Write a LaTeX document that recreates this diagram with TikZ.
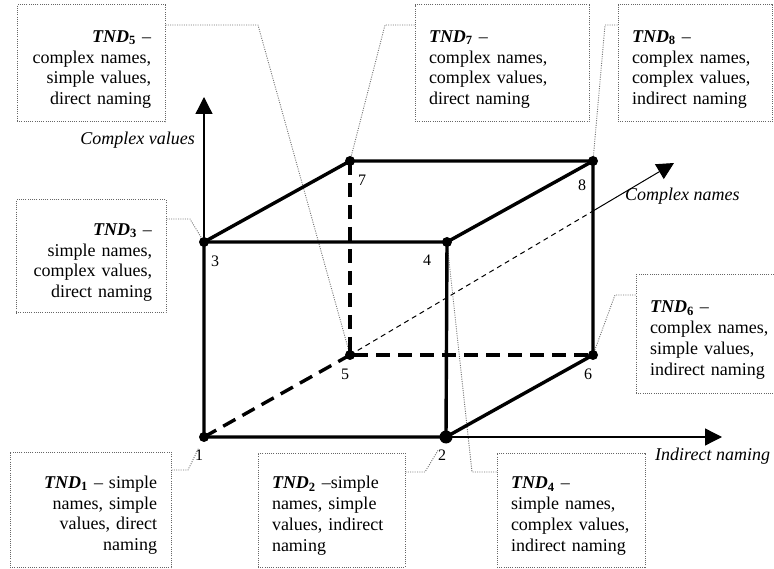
\documentclass[tikz,border=0pt]{standalone}
\usepackage{fontspec}
\setmainfont{Liberation Serif}
\usepackage{tikz}
\usetikzlibrary{arrows.meta,calc}

\newcommand{\tnd}[1]{\rule{0pt}{24pt}\textbf{\textit{TND}}\textsubscript{\textbf{#1}}}

\begin{document}
\begin{tikzpicture}[x=1pt,y=-1pt,
		edge/.style={line width=3.4pt},
		hidden/.style={line width=3.4pt, dash pattern=on 14pt off 8pt},
		axis/.style={line width=1.3pt, -{Triangle[length=17pt,width=17pt]}},
		tndbox/.style={draw=black!60, line width=1pt, dash pattern=on 1pt off 1.2pt,
			inner xsep=14pt, font=\fontsize{18}{20.8}\selectfont},
		leader/.style={draw=black!55, line width=0.9pt, dash pattern=on 1pt off 1.3pt},
		num/.style={font=\fontsize{16}{16}\selectfont, inner sep=0pt},
		axlabel/.style={font=\fontsize{18}{18}\selectfont\itshape, inner sep=0pt}]
		\useasboundingbox (0,0) rectangle (774,569);

		% Cube vertices
		\foreach \n/\x/\y in {1/204/437, 2/446/437, 3/204/242, 4/447/242,
			5/350/355, 6/593/355, 7/350/161, 8/593/161} {
			\coordinate (v\n) at (\x,\y);
		}
		\coordinate (yend) at (204,97);
		\coordinate (xend) at (722,437);
		\coordinate (zend) at (674,163);
		\coordinate (zcut) at ($(v5)!0.75!(zend)$);

		% Callout boxes
		\node[tndbox, text width=120pt, minimum height=117pt, align=right] (tnd5) at (91,63.5)
		{\tnd{5} --\\ complex names,\\ simple values,\\ direct naming};
		\node[tndbox, text width=146pt, minimum height=117pt, align=left] (tnd7) at (502,63.5)
		{\tnd{7} --\\ complex names,\\ complex values,\\ direct naming};
		\node[tndbox, text width=126pt, minimum height=117pt, align=left] (tnd8) at (695,63.5)
		{\tnd{8} --\\ complex names,\\ complex values,\\ indirect naming};
		\node[tndbox, text width=122pt, minimum height=113pt, align=right] (tnd3) at (91,256.5)
		{\tnd{3} --\\ simple names,\\ complex values,\\ direct naming};
		\node[tndbox, text width=126pt, minimum height=118pt, align=left] (tnd6) at (713,334)
		{\tnd{6} --\\ complex names,\\ simple values,\\ indirect naming};
		\node[tndbox, text width=133pt, minimum height=115pt, align=right] (tnd1) at (90.5,509.5)
		{\tnd{1} -- simple\\ names, simple\\ values, direct\\ naming};
		\node[tndbox, text width=119pt, minimum height=114pt, align=left] (tnd2) at (331.5,510)
		{\tnd{2} --simple\\ names, simple\\ values, indirect\\ naming};
		\node[tndbox, text width=120pt, minimum height=114pt, align=left] (tnd4) at (571,510)
		{\tnd{4} --\\ simple names,\\ complex values,\\ indirect naming};

		% Leaders
		\coordinate (b5) at (258,25);
		\coordinate (b7) at (385,25);
		\coordinate (b8) at (605,25);
		\coordinate (b3) at (190,219);
		\coordinate (b6) at (615,295);
		\coordinate (b1) at (188,470);
		\coordinate (b2) at (425,472);
		\coordinate (b4) at (472,472);
		\draw[leader] (tnd5.east |- b5) -- (b5) -- (v5);
		\draw[leader] (tnd7.west |- b7) -- (b7) -- (v7);
		\draw[leader] (tnd8.west |- b8) -- (b8) -- (v8);
		\draw[leader] (tnd3.east |- b3) -- (b3) -- (v3);
		\draw[leader] (tnd6.west |- b6) -- (b6) -- (v6);
		\draw[leader, shorten >=12pt] (tnd1.east |- b1) -- (b1) -- (v1);
		\draw[leader, shorten >=15pt] (tnd2.east |- b2) -- (b2) -- (v2);
		\draw[leader] (tnd4.west |- b4) -- (b4) -- (v4);

		% Axes
		\draw[axis] (v1) -- (yend);
		\draw[axis] (v2) -- (xend);
		\draw[line width=1pt, dash pattern=on 5pt off 4pt] (v5) -- (zcut);
		\draw[axis, line width=1pt] (zcut) -- (zend);
		\node[axlabel, anchor=east] (ylab) at (195,140) {Complex values};
		\node[axlabel, anchor=west] (zlab) at (625,196) {Complex names};
		\node[axlabel, anchor=west] (xlab) at (655,456) {Indirect naming};

		% Cube edges
		\draw[edge] (v7) -- (v3) -- (v1) -- (v2) -- (v6) -- (v8) -- cycle;
		\draw[edge] (v3) -- (v4) -- (v2);
		\draw[edge] (v4) -- (v8);
		\draw[hidden] (v1) -- (v5);
		\draw[hidden] (v7) -- (v5) -- (v6);

		% Points
		\foreach \n in {1,3,4,5,6,7,8} {
			\fill[black] (v\n) circle (5pt);
		}
		\fill[black] (v2) circle (6.5pt);

		\foreach \n/\x/\y in {1/199/455, 2/442/455, 3/215/261, 4/427/260,
			5/345/374, 6/588/374, 7/362/180, 8/582/185} {
			\node[num] (l\n) at (\x,\y) {\n};
		}
	\end{tikzpicture}
\end{document}
